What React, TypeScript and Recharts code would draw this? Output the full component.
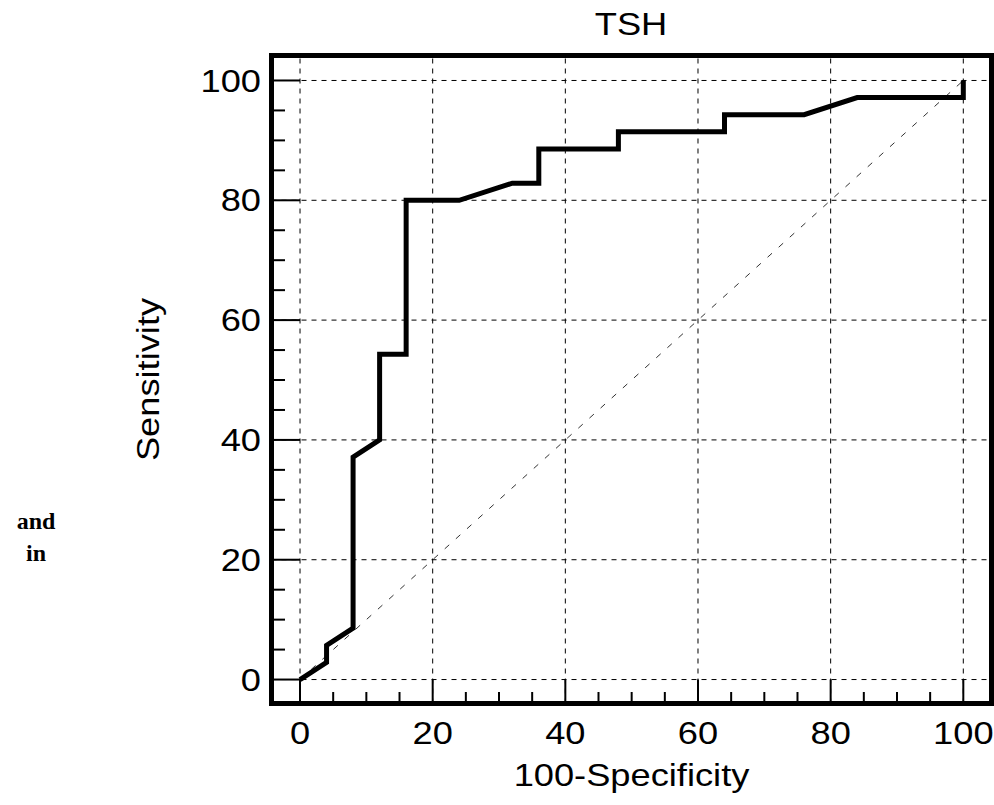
import React from 'react';
import { ComposedChart, Line, XAxis, YAxis, ReferenceLine, ReferenceArea } from 'recharts';

// ROC curve points (100-Specificity, Sensitivity)
const fprValues = [0, 4, 4, 8, 8, 12, 12, 16, 16, 24, 32, 36, 36, 48, 48, 64, 64, 76, 84, 100, 100];
const sensValues = [0, 2.86, 5.71, 8.57, 37.14, 40, 54.29, 54.29, 80, 80, 82.86, 82.86, 88.57, 88.57, 91.43, 91.43, 94.29, 94.29, 97.14, 97.14, 100];
const axisTicks = [0, 5, 10, 15, 20, 25, 30, 35, 40, 45, 50, 55, 60, 65, 70, 75, 80, 85, 90, 95, 100];
const majorTicks = [0, 20, 40, 60, 80, 100];
const diagonal = [{ x: 0, y: 0 }, { x: 100, y: 100 }];
const xDomain: [number, number] = [-4.3, 104.25];
const yDomain: [number, number] = [-4.0, 104.17];

const title = 'TSH';
const xTitle = '100-Specificity';
const yTitle = 'Sensitivity';

const data = fprValues.map((f, i) => ({ fpr: f, sens: sensValues[i] }));

const FONT = '"Liberation Sans", Arial, sans-serif';
const FS = 31;
const SX = 1.17;
const M = 10;

function XTick(props: any) {
  const { x, y, payload } = props;
  const v = payload.value;
  const bottom = y - M;
  const major = v % 20 === 0;
  return (
    <g>
      <line x1={x} x2={x} y1={bottom} y2={bottom - (major ? 24 : 11.5)} stroke="#000" strokeWidth={2} />
      {major && (
        <text transform={`translate(${x},${bottom + 40.8}) scale(${SX},1)`} textAnchor="middle" fontFamily={FONT} fontSize={FS} fill="#000">
          {v}
        </text>
      )}
    </g>
  );
}

function YTick(props: any) {
  const { x, y, payload } = props;
  const v = payload.value;
  const left = x + M;
  const major = v % 20 === 0;
  return (
    <g>
      <line x1={left} x2={left + (major ? 28.5 : 13.5)} y1={y} y2={y} stroke="#000" strokeWidth={2} />
      {major && (
        <text transform={`translate(${left - 10.5},${y + 11.2}) scale(${SX},1)`} textAnchor="end" fontFamily={FONT} fontSize={FS} fill="#000">
          {v}
        </text>
      )}
    </g>
  );
}

function XTitle(props: any) {
  const vb = props.viewBox || {};
  const cx = vb.x + vb.width / 2;
  return (
    <text transform={`translate(${cx},${vb.y + 82}) scale(${SX},1)`} textAnchor="middle" fontFamily={FONT} fontSize={FS} fill="#000">
      {xTitle}
    </text>
  );
}

function YTitle(props: any) {
  const vb = props.viewBox || {};
  const cy = vb.y + vb.height / 2;
  return (
    <text transform={`translate(${vb.x + vb.width - 113},${cy}) rotate(-90) scale(${SX},1)`} textAnchor="middle" fontFamily={FONT} fontSize={FS} fill="#000">
      {yTitle}
    </text>
  );
}

export default function App() {
  return (
    <div style={{ position: 'absolute', left: 0, top: 0, width: 994, height: 805, background: '#fff' }}>
      <ComposedChart width={994} height={805} data={data} margin={{ top: 55.5, right: 2.5, bottom: 61.5, left: 211.5 }}>
        <XAxis
          dataKey="fpr"
          type="number"
          domain={xDomain}
          allowDataOverflow
          ticks={axisTicks}
          interval={0}
          tick={<XTick />}
          tickSize={0}
          tickMargin={M}
          axisLine={false}
          tickLine={false}
          height={40}
          label={<XTitle />}
        />
        <YAxis
          type="number"
          domain={yDomain}
          allowDataOverflow
          ticks={axisTicks}
          interval={0}
          tick={<YTick />}
          tickSize={0}
          tickMargin={M}
          axisLine={false}
          tickLine={false}
          width={60}
          label={<YTitle />}
        />
        {majorTicks.map((v) => (
          <ReferenceLine key={'gx' + v} x={v} stroke="#000" strokeWidth={1} strokeDasharray="5 5" />
        ))}
        {majorTicks.map((v) => (
          <ReferenceLine key={'gy' + v} y={v} stroke="#000" strokeWidth={1} strokeDasharray="5 5" />
        ))}
        <ReferenceLine segment={diagonal} stroke="#333" strokeWidth={1} strokeDasharray="6 9" />
        <Line dataKey="sens" type="linear" stroke="#000" strokeWidth={5} dot={false} isAnimationActive={false} />
        <ReferenceArea x1={xDomain[0]} x2={xDomain[1]} y1={yDomain[0]} y2={yDomain[1]} fill="none" fillOpacity={0} stroke="#000" strokeWidth={5} ifOverflow="visible" />
      </ComposedChart>
      <svg width={994} height={60} style={{ position: 'absolute', left: 0, top: 0, pointerEvents: 'none' }}>
        <text transform={`translate(631,35) scale(${SX},1)`} textAnchor="middle" fontFamily={FONT} fontSize={FS} fill="#000">
          {title}
        </text>
      </svg>
      <div style={{ position: 'absolute', left: 0, top: 505, width: 72, textAlign: 'center', fontFamily: '"Liberation Serif", "Times New Roman", serif', fontWeight: 'bold', fontSize: 24, lineHeight: '32px' }}>
        <div>and</div>
        <div>in</div>
      </div>
    </div>
  );
}
